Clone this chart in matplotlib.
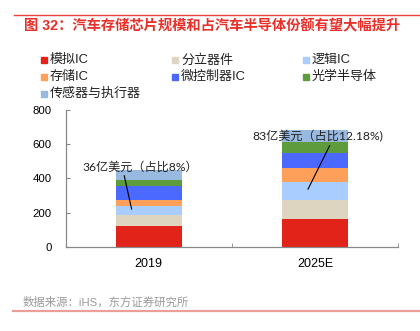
import matplotlib
matplotlib.use("Agg")
import matplotlib.pyplot as plt
from matplotlib.patches import Rectangle

plt.rcParams["font.family"] = ["Liberation Sans", "Noto Sans CJK SC"]

years = ["2019", "2025E"]

series = ["模拟IC", "分立器件", "逻辑IC", "存储IC", "微控制器IC", "光学半导体", "传感器与执行器"]
colors = ["#E2231A", "#DDD5BF", "#AACDFF", "#FFA05A", "#4B69FF", "#5E9B3C", "#98B9E0"]

# 亿美元
analog = [121, 165]
discrete = [64, 111]
logic = [54, 102]
memory = [36, 83]
mcu = [80, 88]
optical = [39, 65]
sensor = [56, 68]
values = [analog, discrete, logic, memory, mcu, optical, sensor]

memory_share = ["8%", "12.18%"]

fig = plt.figure(figsize=(4.2, 3.31), dpi=100)
ax = fig.add_axes([0.1564, 0.2529, 0.7912, 0.4157])

x = range(len(years))
bottom = [0, 0]
for name, vals, c in zip(series, values, colors):
    ax.bar(x, vals, width=0.4, bottom=bottom, color=c, linewidth=0)
    bottom = [b + v for b, v in zip(bottom, vals)]

ax.set_xlim(-0.5, 1.5)
ax.set_ylim(0, 800)
ax.set_yticks([0, 200, 400, 600, 800])
ax.set_xticks(list(x))
ax.set_xticklabels(years, fontsize=9)
ax.set_xticks([0.5, 1.5], minor=True)
ax.tick_params(axis="x", which="major", length=0, pad=8)
ax.tick_params(axis="x", which="minor", direction="in", length=3, color="#888888")
ax.tick_params(axis="y", direction="in", length=3, color="#888888", labelsize=8.2, pad=10)
for s in ["top", "right"]:
    ax.spines[s].set_visible(False)
for s in ["left", "bottom"]:
    ax.spines[s].set_color("#888888")
    ax.spines[s].set_linewidth(0.9)

# 存储IC 规模标注
ann_font = ["Lato", "Noto Sans CJK SC"]
ax.annotate(
    f"{memory[0]}亿美元（占比{memory_share[0]}）",
    xy=(-0.103, 221), xytext=(-0.402, 467),
    fontsize=8.7, family=ann_font, color="#222222", va="center", ha="left",
    arrowprops=dict(arrowstyle="-", color="black", lw=0.8, relpos=(0.36, 0.0),
                    shrinkA=0, shrinkB=0),
)
ax.annotate(
    f"{memory[1]}亿美元（占比{memory_share[1]})",
    xy=(0.958, 337), xytext=(0.625, 643),
    fontsize=8.7, family=ann_font, color="#222222", va="center", ha="left",
    arrowprops=dict(arrowstyle="-", color="black", lw=0.8, relpos=(0.6, 0.0),
                    shrinkA=0, shrinkB=0),
)

# legend, row-major in three columns
col_x = [41, 172, 303]
row_y = [60, 77, 93.5]
for i, (name, c) in enumerate(zip(series, colors)):
    px = col_x[i % 3]
    py = row_y[i // 3]
    fig.patches.append(Rectangle((px / 420, 1 - (py + 3) / 331), 6 / 420, 6 / 331,
                                 transform=fig.transFigure, color=c, figure=fig))
    fig.text((px + 9) / 420, 1 - py / 331, name, fontsize=9.4, va="center",
             ha="left", color="#222222")

# title and source
fig.add_artist(plt.Line2D([14 / 420, 1], [1 - 15 / 331] * 2, color="#E8453C", lw=1.0))
fig.text(24 / 420, 1 - 26 / 331, "图 32：汽车存储芯片规模和占汽车半导体份额有望大幅提升",
         fontsize=10.3, fontweight="bold", color="#E8302A", va="center", ha="left")
fig.text(23 / 420, 1 - 302.5 / 331, "数据来源：iHS，东方证券研究所",
         fontsize=8.2, color="#9A9A9A", va="center", ha="left")
fig.add_artist(plt.Line2D([13 / 420, 1], [1 - 311 / 331] * 2, color="#EE9E99", lw=1.6))

fig.savefig("out.png", dpi=100)
